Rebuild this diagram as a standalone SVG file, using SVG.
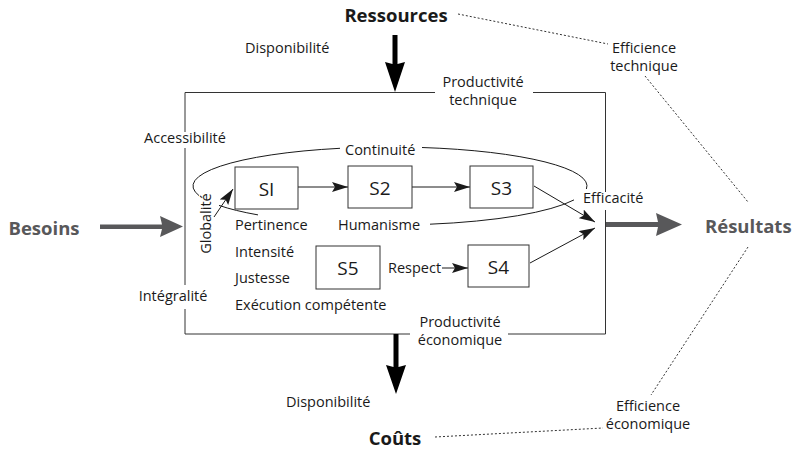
<svg xmlns="http://www.w3.org/2000/svg" width="794" height="450" viewBox="0 0 794 450">
  <style>
    .t { font-family: "Open Sans", "Liberation Sans", sans-serif; font-size: 14.5px; fill: #1a1a1a; }
    .mid { text-anchor: middle; }
    .b { font-weight: bold; font-size: 18.5px; }
    .grey { fill: #58585a; }
    .sl { font-size: 19px; text-anchor: middle; }
    .box { fill: #fff; stroke: #333; stroke-width: 1; }
    .frame { fill: none; stroke: #333; stroke-width: 1; }
    .conn { fill: none; stroke: #1a1a1a; stroke-width: 1; }
    .arr { marker-end: url(#ah); }
    .dot { fill: none; stroke: #333; stroke-width: 1; stroke-dasharray: 2 2; }
    .thick { fill: #000; }
    .thickg { fill: #58585a; }
  </style>
  <defs>
    <marker id="ah" markerUnits="userSpaceOnUse" markerWidth="16" markerHeight="10" refX="16" refY="5" orient="auto">
      <path d="M0,0 L16,5 L0,10 L3,5 Z" fill="#1a1a1a"/>
    </marker>
  </defs>

  <rect width="794" height="450" fill="#fff"/>

  <!-- system frame with gaps around its labels -->
  <g id="frame">
    <path class="frame" d="M185,132 V92.5 H435 M533,92.5 H605.5 V192 M605.5,210 V334 H508 M410,334 H185 V309 M185,285 V148"/>
  </g>

  <!-- big flow arrows -->
  <g id="flows">
    <path class="thick" d="M392.5,35 H397.5 V64 L405,62 L395,92 L385,62 L392.5,64 Z"/>
    <path class="thick" d="M393.5,334 H398.5 V367 L406,365 L396,394 L386,365 L393.5,367 Z"/>
    <path class="thickg" d="M100,224.5 H162 L160,216 L183,226.5 L160,237 L162,229 H100 Z"/>
    <path class="thickg" d="M606,222 H658 L656,213 L682,224.5 L656,236 L658,227 H606 Z"/>
  </g>

  <!-- dotted efficiency links -->
  <g id="efficiency-links">
    <path class="dot" d="M458,14 L608,44"/>
    <path class="dot" d="M645,76 L748,202"/>
    <path class="dot" d="M748,247 L651,395"/>
    <path class="dot" d="M435,437 L603,428"/>
  </g>

  <!-- loop of continuity around the services -->
  <g id="loop">
    <path class="conn" d="M340,148.3 A197,39 0 0,0 199,195.6"/>
    <path class="conn" d="M219,205.4 A197,39 0 0,0 258,214.9"/>
    <path class="conn" d="M430,224.2 A197,39 0 0,0 574,199.9"/>
    <path class="conn" d="M586.4,189 A197,39 0 0,0 422,147.5"/>
  </g>

  <!-- connectors between services -->
  <g id="connectors">
    <line class="conn arr" x1="214" y1="217" x2="233" y2="189"/>
    <line class="conn arr" x1="298" y1="187" x2="348" y2="187"/>
    <line class="conn arr" x1="412" y1="187" x2="470" y2="187"/>
    <line class="conn arr" x1="534" y1="186" x2="595" y2="222"/>
    <line class="conn arr" x1="530" y1="263" x2="595" y2="228"/>
    <line class="conn arr" x1="442" y1="268" x2="468" y2="268"/>
  </g>

  <!-- service nodes -->
  <g id="node-s1">
    <rect class="box" x="235" y="167" width="63" height="42"/>
    <text class="t sl" x="266.5" y="195.5">SI</text>
  </g>
  <g id="node-s2">
    <rect class="box" x="348" y="166" width="64" height="42"/>
    <text class="t sl" x="380" y="194.5">S2</text>
  </g>
  <g id="node-s3">
    <rect class="box" x="470" y="166" width="63" height="42"/>
    <text class="t sl" x="501.5" y="194.5">S3</text>
  </g>
  <g id="node-s5">
    <rect class="box" x="316" y="246" width="64" height="43"/>
    <text class="t sl" x="348" y="274.5">S5</text>
  </g>
  <g id="node-s4">
    <rect class="box" x="468" y="245" width="61" height="42"/>
    <text class="t sl" x="498.5" y="273.5">S4</text>
  </g>

  <!-- poles -->
  <g id="node-ressources"><text class="t b mid" x="396" y="22">Ressources</text></g>
  <g id="node-couts"><text class="t b mid" x="395" y="445">Coûts</text></g>
  <g id="node-besoins"><text class="t b mid grey" x="44" y="235">Besoins</text></g>
  <g id="node-resultats"><text class="t b grey" x="705" y="233">Résultats</text></g>

  <!-- criteria labels -->
  <g id="labels">
    <text class="t" x="245" y="53">Disponibilité</text>
    <text class="t mid" x="483" y="87">Productivité</text>
    <text class="t mid" x="483" y="105">technique</text>
    <text class="t mid" x="644" y="53">Efficience</text>
    <text class="t mid" x="644" y="71">technique</text>
    <text class="t mid" x="185" y="143">Accessibilité</text>
    <text class="t" x="345" y="155">Continuité</text>
    <text class="t mid" transform="translate(210.5,223.5) rotate(-90)">Globalité</text>
    <text class="t" x="235" y="230">Pertinence</text>
    <text class="t" x="338" y="230">Humanisme</text>
    <text class="t" x="235" y="257">Intensité</text>
    <text class="t" x="235" y="283">Justesse</text>
    <text class="t" x="235" y="310">Exécution compétente</text>
    <text class="t" x="388" y="273">Respect</text>
    <text class="t mid" x="173" y="301">Intégralité</text>
    <text class="t" x="583" y="203">Efficacité</text>
    <text class="t mid" x="460" y="327">Productivité</text>
    <text class="t mid" x="460" y="345">économique</text>
    <text class="t" x="286" y="407">Disponibilité</text>
    <text class="t mid" x="648" y="411">Efficience</text>
    <text class="t mid" x="648" y="429">économique</text>
  </g>
</svg>
